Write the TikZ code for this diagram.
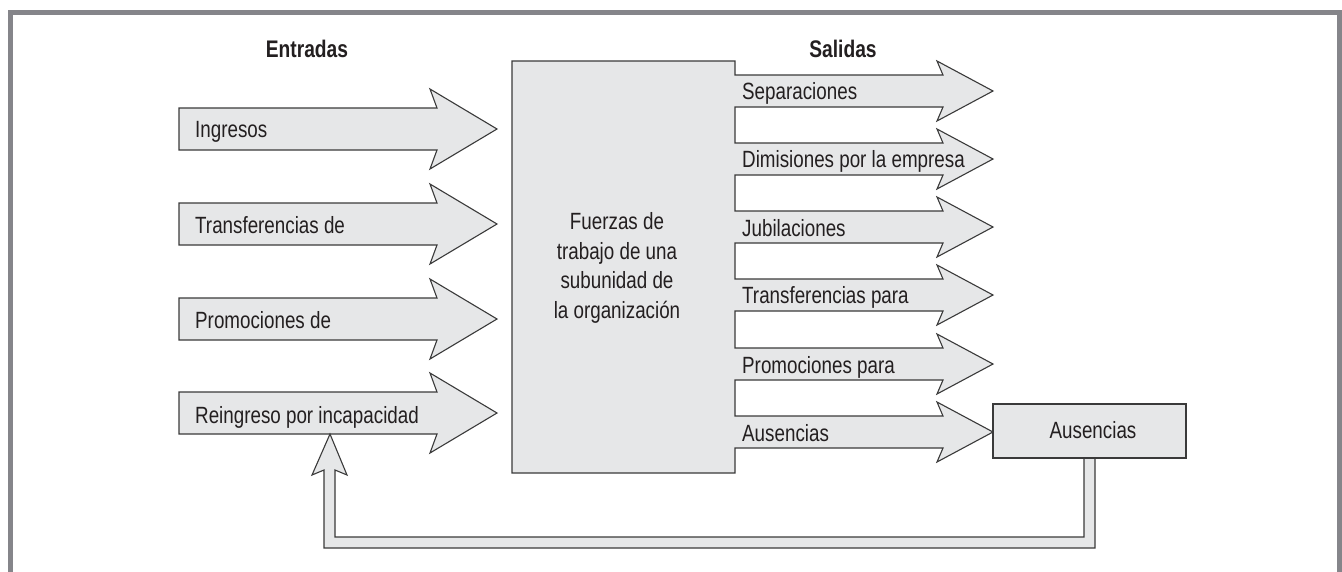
\documentclass[tikz,border=0pt]{standalone}
\usepackage{fontspec}
\newfontfamily\cond{Liberation Sans}[FakeStretch=0.8]
\definecolor{boxfill}{HTML}{E6E7E8}
\definecolor{edge}{HTML}{3A3A3A}
\definecolor{framegray}{HTML}{85858A}
\definecolor{txt}{HTML}{231F20}
\tikzset{
  blk/.style={fill=boxfill, draw=edge, line width=1.1pt, line join=miter},
  lbl/.style={inner sep=0pt, text=txt, font=\cond\fontsize{23.5}{29.5}\selectfont},
  headtxt/.style={inner sep=0pt, text=txt, font=\cond\bfseries\fontsize{24}{28}\selectfont},
}
\begin{document}
\begin{tikzpicture}[x=1pt,y=-1pt]
\useasboundingbox (0,0) rectangle (1342,571);
% frame
\draw[framegray, line width=5pt] (10.5,575) -- (10.5,12.5) -- (1339.5,12.5) -- (1339.5,575);
% headings
\node[headtxt] (entradas) at (307,49) {Entradas};
\node[headtxt] (salidas) at (843,49) {Salidas};
% input arrows
\foreach \c in {129,224,319,413} {
  \draw[blk] (179,{\c-21}) -- (437,{\c-21}) -- (430,{\c-40}) -- (497,\c) -- (430,{\c+40}) -- (437,{\c+21}) -- (179,{\c+21}) -- cycle;
}
\node[lbl, anchor=base west] (in1) at (195,137) {Ingresos};
\node[lbl, anchor=base west] (in2) at (195,233) {Transferencias de};
\node[lbl, anchor=base west] (in3) at (195,328) {Promociones de};
\node[lbl, anchor=base west] (in4) at (195,423) {Reingreso por incapacidad};
% central box with output arrows
\draw[blk] (512,61) -- (735,61) -- (735,75) -- (943,75) -- (937,61) -- (993,91) -- (937,121) -- (943,107) -- (735,107)
 -- (735,143) -- (943,143) -- (937,129) -- (993,159) -- (937,189) -- (943,175) -- (735,175)
 -- (735,211) -- (943,211) -- (937,197) -- (993,227) -- (937,257) -- (943,243) -- (735,243)
 -- (735,279) -- (943,279) -- (937,265) -- (993,295) -- (937,325) -- (943,311) -- (735,311)
 -- (735,348) -- (943,348) -- (937,334) -- (993,364) -- (937,394) -- (943,380) -- (735,380)
 -- (735,416) -- (943,416) -- (937,402) -- (993,432) -- (937,462) -- (943,448) -- (735,448)
 -- (735,473) -- (512,473) -- cycle;
\node[lbl, align=center] (core) at (617,268) {Fuerzas de\\trabajo de una\\subunidad de\\la organizaci\'on};
\node[lbl, anchor=base west] (out1) at (742,99) {Separaciones};
\node[lbl, anchor=base west] (out2) at (742,167) {Dimisiones por la empresa};
\node[lbl, anchor=base west] (out3) at (742,236) {Jubilaciones};
\node[lbl, anchor=base west] (out4) at (742,303) {Transferencias para};
\node[lbl, anchor=base west] (out5) at (742,373) {Promociones para};
\node[lbl, anchor=base west] (out6) at (742,441) {Ausencias};
% feedback arrow
\draw[blk] (330,434) -- (347,475) -- (335,470) -- (335,537) -- (1084,537) -- (1084,458) -- (1095,458) -- (1095,548) -- (324,548) -- (324,470) -- (312,475) -- cycle;
% Ausencias box
\node[blk, lbl, minimum width=193pt, minimum height=54pt] (aus) at (1089.5,431) {};
\node[lbl, anchor=base] (austxt) at (1093,438) {Ausencias};
\end{tikzpicture}
\end{document}
